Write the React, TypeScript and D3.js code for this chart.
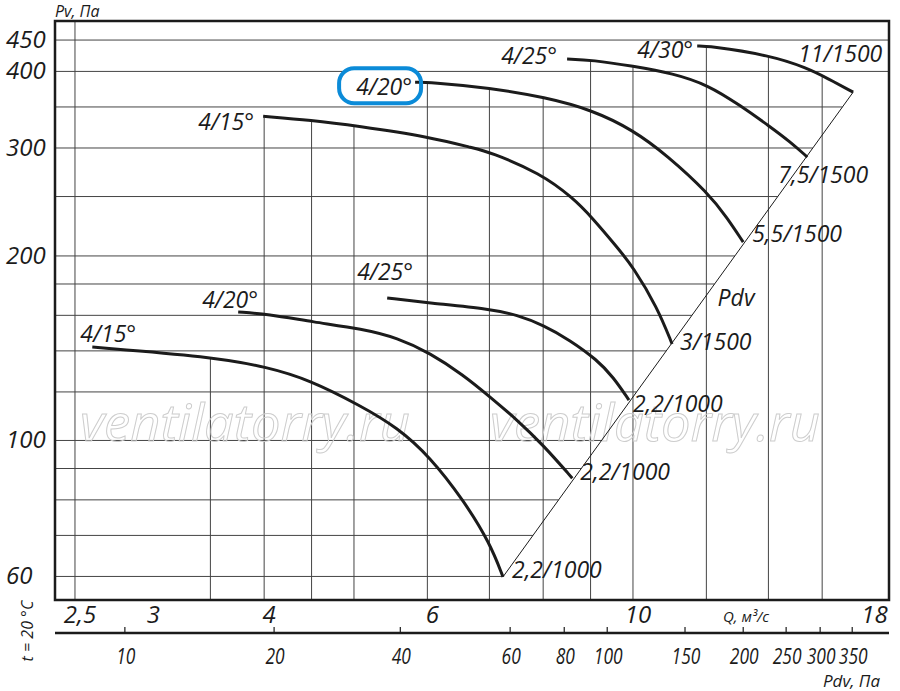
import React from 'react';
import * as d3 from 'd3';

// Fan curves, Pv (Pa) against Q (m³/s), log-log
const qGrid = [2.5, 3.5, 4, 4.5, 5, 6, 7, 8, 9, 10, 12, 14, 16];
const pvGrid = [60, 70, 80, 90, 100, 120, 140, 160, 180, 200, 250, 300, 350, 400, 450];
const pvTicks = [450, 400, 300, 200, 100, 60];
const qTicks = [2.5, 3, 4, 6, 10, 18];
const qTickLabels = ['2,5', '3', '4', '6', '10', '18'];
const pdvTicks = [10, 20, 40, 60, 80, 100, 150, 200, 250, 300, 350];
// where each Pdv tick sits on the Q axis
const pdvTickQ = [2.83, 4.1, 5.61, 7.37, 8.43, 9.38, 11.38, 13.15, 14.63, 15.92, 17.24];

// 1000 rpm
const low15 = [[2.61, 142], [3.5, 137], [4.03, 131.8], [4.48, 125.5], [5.08, 114], [5.57, 105], [6.04, 94], [6.56, 80], [7.01, 68], [7.24, 59.9]];
const low20 = [[3.75, 162], [4.03, 160.8], [4.52, 156], [5.11, 152], [5.57, 147], [6.04, 138.9], [6.56, 127.9], [7.01, 117.8], [7.5, 108], [8.0, 98.3], [8.6, 86.8]];
const low25 = [[5.43, 170.8], [6.04, 167.6], [7.01, 163.9], [7.5, 160.2], [8.0, 154.3], [8.55, 145.8], [9.15, 135.3], [9.52, 126.9], [9.9, 116.4]];
// 1500 rpm
const high15 = [[3.99, 338], [4.5, 333], [5.03, 326], [6.04, 312.7], [6.72, 300], [7.01, 295.5], [7.94, 273], [8.62, 248.6], [9.04, 230.7], [9.61, 206.8], [10.0, 192], [10.62, 165], [11.02, 143.7]];
const high20 = [[5.82, 384], [6.04, 384], [7.01, 376], [8.04, 363], [9.04, 346], [10.0, 321], [10.88, 292], [12.06, 253], [12.63, 231], [13.15, 210.7]];
const high25 = [[8.49, 419], [9.04, 417.5], [10.0, 408], [11.05, 397], [12.06, 380], [13.05, 352], [14.06, 325], [14.78, 307], [15.42, 290]];
const high30 = [[11.73, 440], [12.06, 440], [14.06, 425], [15.42, 405], [16.2, 390], [17.28, 370]];

const curves = [low15, low20, low25, high15, high20, high25, high30];
const bladeNames = ['4/15°', '4/20°', '4/25°', '4/15°', '4/20°', '4/25°', '4/30°'];
const motorNames = ['2,2/1000', '2,2/1000', '2,2/1000', '3/1500', '5,5/1500', '7,5/1500', '11/1500'];
const pdvLine = [[7.24, 59.9], [17.28, 370]];

// label placement relative to curve start / end (px)
const bladeLabelPos = [
  { dx: -12, dy: -5, anchor: 'start' },
  { dx: -36, dy: -4, anchor: 'start' },
  { dx: -30, dy: -18, anchor: 'start' },
  { dx: -9, dy: 14, anchor: 'end' },
  { dx: -3, dy: 13, anchor: 'end' },
  { dx: -10, dy: 5, anchor: 'end' },
  { dx: -4, dy: 12, anchor: 'end' },
];
const motorLabelPos = [
  { dx: 9, dy: 1 },
  { dx: 8, dy: 2 },
  { dx: 4, dy: 12 },
  { dx: 8, dy: 6 },
  { dx: 9, dy: 0 },
  { dx: -29, dy: 26 },
  { dx: -55, dy: -30 },
];

const FONT = "'Open Sans', 'DejaVu Sans', sans-serif";
const INK = '#1b1b1b';
const GRID = '#444';

const x = d3.scaleLog().domain([2.379, 18.89]).range([55, 889]);
const y = d3.scaleLog().domain([54.92, 483.4]).range([600, 21]);

const curveLine = d3
  .line<number[]>()
  .x((d) => x(d[0]))
  .y((d) => y(d[1]))
  .curve(d3.curveBasis);

const straightLine = d3
  .line<number[]>()
  .x((d) => x(d[0]))
  .y((d) => y(d[1]));

// Q on the Pdv line for a given Pv
function diagQ(pv: number) {
  const [a, b] = pdvLine;
  const t = (Math.log(pv) - Math.log(a[1])) / (Math.log(b[1]) - Math.log(a[1]));
  return Math.exp(Math.log(a[0]) + t * (Math.log(b[0]) - Math.log(a[0])));
}

// highest curve Pv at a given Q, or null
function envelope(q: number) {
  let best: number | null = null;
  curves.forEach((c) => {
    if (q < c[0][0] || q > c[c.length - 1][0]) return;
    for (let i = 0; i < c.length - 1; i++) {
      const [q0, p0] = c[i];
      const [q1, p1] = c[i + 1];
      if (q >= q0 && q <= q1) {
        const t = (Math.log(q) - Math.log(q0)) / (Math.log(q1) - Math.log(q0));
        const p = Math.exp(Math.log(p0) + t * (Math.log(p1) - Math.log(p0)));
        if (best === null || p > best) best = p;
      }
    }
  });
  return best;
}

export default function App() {
  const [top, bottom] = [y.range()[1], y.range()[0]];
  const [left, right] = x.range();
  const hi20Start = [x(high20[0][0]), y(high20[0][1])];
  const pdvPt = [x(diagQ(170)), y(170)];

  return (
    <svg
      width={900}
      height={691}
      style={{ position: 'absolute', left: 0, top: 0, background: '#fff' }}
      fontFamily={FONT}
      fontStyle="italic"
    >
      <rect width={900} height={691} fill="#fff" />

      {/* grid */}
      {qGrid.map((q) => {
        const p = envelope(q);
        const y0 = p === null ? top : y(p) + 1;
        return <line key={'v' + q} x1={x(q)} x2={x(q)} y1={y0} y2={bottom} stroke={GRID} strokeWidth={1} />;
      })}
      {pvGrid.map((p) => {
        const x1 = p <= pdvLine[1][1] ? x(diagQ(p)) : right;
        return <line key={'h' + p} x1={left} x2={x1} y1={y(p)} y2={y(p)} stroke={GRID} strokeWidth={1} />;
      })}

      {/* watermark */}
      {[80, 490].map((wx) => (
        <text
          key={wx}
          x={wx}
          y={441}
          fontSize={52}
          textLength={330}
          lengthAdjust="spacingAndGlyphs"
          fill="none"
          stroke="#cdcdcd"
          strokeWidth={1}
        >
          ventilatorry.ru
        </text>
      ))}

      {/* Pdv line */}
      <path d={straightLine(pdvLine as number[][]) || ''} fill="none" stroke={INK} strokeWidth={1} />

      <rect x={hi20Start[0] - 76} y={hi20Start[1] - 14} width={82} height={35} rx={15} fill="#fff" />

      {curves.map((c, i) => (
        <path key={'c' + i} d={curveLine(c as number[][]) || ''} fill="none" stroke={INK} strokeWidth={3} />
      ))}

      {curves.map((c, i) => {
        const s = c[0];
        const pos = bladeLabelPos[i];
        return (
          <text
            key={'b' + i}
            x={x(s[0]) + pos.dx}
            y={y(s[1]) + pos.dy}
            textAnchor={pos.anchor}
            fontSize={23}
            fill={INK}
          >
            {bladeNames[i]}
          </text>
        );
      })}
      {curves.map((c, i) => {
        const e = c[c.length - 1];
        const pos = motorLabelPos[i];
        return (
          <text key={'m' + i} x={x(e[0]) + pos.dx} y={y(e[1]) + pos.dy} fontSize={23} fill={INK}>
            {motorNames[i]}
          </text>
        );
      })}
      <text x={pdvPt[0] + 14} y={pdvPt[1] + 7} fontSize={23} fill={INK}>
        Pdv
      </text>

      <rect
        x={hi20Start[0] - 76}
        y={hi20Start[1] - 14}
        width={82}
        height={35}
        rx={15}
        fill="none"
        stroke="#0b8bd8"
        strokeWidth={4}
      />

      {/* frame */}
      <rect x={left} y={top} width={right - left} height={bottom - top} fill="none" stroke={INK} strokeWidth={2.5} />

      {/* Pv axis */}
      {pvTicks.map((p) => (
        <text key={'pt' + p} x={6} y={y(p) + 8} fontSize={24} fill={INK}>
          {p}
        </text>
      ))}
      <text x={55} y={17} fontSize={16} fill={INK}>
        Pv, Па
      </text>

      {/* Q axis */}
      {qTicks.map((q, i) => (
        <text key={'qt' + q} x={x(q) + 5} y={623} textAnchor="middle" fontSize={24} fill={INK}>
          {qTickLabels[i]}
        </text>
      ))}
      <text x={723} y={622} fontSize={15} fill={INK}>
        Q, м³/с
      </text>

      {/* Pdv axis */}
      <line x1={left} x2={right} y1={633} y2={633} stroke={INK} strokeWidth={2.5} />
      {pdvTicks.map((p, i) => (
        <g key={'dt' + p}>
          <line x1={x(pdvTickQ[i])} x2={x(pdvTickQ[i])} y1={627} y2={633} stroke={INK} strokeWidth={1.2} />
          <text
            x={x(pdvTickQ[i]) + 1}
            y={664}
            textAnchor="middle"
            fontSize={22}
            textLength={String(p).length * 9.6}
            lengthAdjust="spacingAndGlyphs"
            fill={INK}
          >
            {p}
          </text>
        </g>
      ))}
      <text x={880} y={687} textAnchor="end" fontSize={17} fill={INK}>
        Pdv, Па
      </text>

      <text transform="translate(33,631) rotate(-90)" textAnchor="middle" fontSize={16} fill={INK}>
        t = 20 °C
      </text>
    </svg>
  );
}
